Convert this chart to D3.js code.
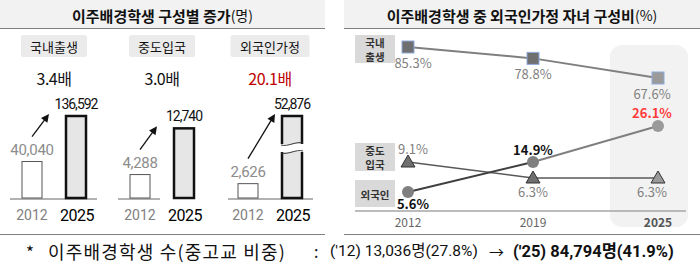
<!DOCTYPE html>
<html>
<head>
<meta charset="utf-8">
<script src="https://cdn.jsdelivr.net/npm/d3@7"></script>
<style>
  body { margin: 0; background: #fff; }
  svg { display: block; font-family: "Noto Sans CJK KR", "Noto Sans", sans-serif; }
  .narrow { font-family: "Liberation Sans Narrow", "Roboto", "Noto Sans CJK KR", sans-serif; }
</style>
</head>
<body>
<div id="chart"></div>
<script>
// Left panel data: count by group
const groupNames = ["국내출생", "중도입국", "외국인가정"];
const barYears = ["2012", "2025"];
const values2012 = [40040, 4288, 2626];
const values2025 = [136592, 12740, 52876];
const ratioLabels = ["3.4배", "3.0배", "20.1배"];

// Right panel data: share (%)
const lineYears = ["2012", "2019", "2025"];
const domesticShare = [85.3, 78.8, 67.6];
const midEntryShare = [9.1, 6.3, 6.3];
const foreignShare = [5.6, 14.9, 26.1];

const width = 700, height = 268;
const svg = d3.select("#chart").append("svg")
  .attr("width", width)
  .attr("height", height);

const fmt = d3.format(",");

// ---------- panel headers ----------
function header(x0, x1, parts) {
  svg.append("rect").attr("x", x0).attr("y", 0).attr("width", x1 - x0).attr("height", 28)
    .attr("fill", "#f2f2f2");
  svg.append("line").attr("x1", x0).attr("x2", x1).attr("y1", 28.5).attr("y2", 28.5)
    .attr("stroke", "#7f7f7f").attr("stroke-width", 1);
  const t = svg.append("text").attr("x", (x0 + x1) / 2).attr("y", 15)
    .attr("text-anchor", "middle").attr("dominant-baseline", "central")
    .attr("fill", "#111");
  parts.forEach(p => t.append("tspan").text(p.text)
    .attr("font-size", p.size).attr("font-weight", p.bold ? 700 : 400));
  svg.append("line").attr("x1", x0).attr("x2", x1).attr("y1", 234.5).attr("y2", 234.5)
    .attr("stroke", "#7f7f7f").attr("stroke-width", 1);
}
header(0, 325, [{ text: "이주배경학생 구성별 증가", size: 15, bold: true }, { text: "(명)", size: 14 }]);
header(344, 700, [{ text: "이주배경학생 중 외국인가정 자녀 구성비", size: 15, bold: true }, { text: "(%)", size: 14 }]);

// ---------- left panel: bars ----------
const baseY = 198, topY = 116;
const groupX = d3.scalePoint().domain(groupNames).range([54, 270]);
const barX = d3.scalePoint().domain(barYears).range([-22, 22]);
const barW = 20;
// each group gets its own height scale; values above the ceiling are drawn with a break
const yScales = [
  d3.scalePow().exponent(0.66).domain([0, 136592]).range([baseY, topY]),
  d3.scaleLinear().domain([0, 15000]).range([baseY, topY]),
  d3.scaleLinear().domain([0, 15000]).range([baseY, topY]).clamp(true)
];
const baseSpan = [[10, 97], [118, 160], [228, 313]];

groupNames.forEach((g, i) => {
  const cx = groupX(g);
  const y = yScales[i];
  const gEl = svg.append("g");

  // category tag
  const tagW = g.length * 13 + 14;
  gEl.append("rect").attr("x", cx - tagW / 2).attr("y", 35).attr("width", tagW).attr("height", 22)
    .attr("rx", 2).attr("fill", "#ebebeb");
  gEl.append("text").attr("x", cx).attr("y", 46.5).attr("text-anchor", "middle")
    .attr("dominant-baseline", "central").attr("font-size", 13).attr("fill", "#111").text(g);

  // ratio
  gEl.append("text").attr("x", cx).attr("y", 78).attr("text-anchor", "middle")
    .attr("dominant-baseline", "central").attr("font-size", 16).attr("letter-spacing", -0.5)
    .attr("fill", i === 2 ? "#c00000" : "#111").text(ratioLabels[i]);

  // baseline
  gEl.append("line").attr("x1", baseSpan[i][0]).attr("x2", baseSpan[i][1])
    .attr("y1", baseY + 1).attr("y2", baseY + 1).attr("stroke", "#999").attr("stroke-width", 1.5);

  const vals = [values2012[i], values2025[i]];
  vals.forEach((v, j) => {
    const bx = cx + barX(barYears[j]);
    const top = y(v);
    gEl.append("rect").attr("x", bx - barW / 2).attr("y", top)
      .attr("width", barW).attr("height", baseY - top)
      .attr("fill", j === 0 ? "#fff" : "#e6e6e6")
      .attr("stroke", j === 0 ? "#555" : "#111")
      .attr("stroke-width", j === 0 ? 1 : 2.5);

    gEl.append("text").attr("class", "narrow").attr("x", bx).attr("y", top - 12)
      .attr("text-anchor", "middle").attr("dominant-baseline", "central")
      .attr("font-size", j === 0 ? 15 : 14).attr("letter-spacing", j === 0 ? -0.3 : -1)
      .attr("fill", j === 0 ? "#8c8c8c" : "#111")
      .text(fmt(v));

    gEl.append("text").attr("class", "narrow").attr("x", bx + (j === 0 ? 0 : 1)).attr("y", 215)
      .attr("text-anchor", "middle").attr("dominant-baseline", "central")
      .attr("font-size", j === 0 ? 14 : 16).attr("letter-spacing", j === 0 ? 0 : -0.5)
      .attr("fill", j === 0 ? "#808080" : "#000")
      .text(barYears[j]);

    // break mark for clamped bar
    if (v > y.domain()[1]) {
      const x0 = bx - barW / 2 - 3, x1 = bx + barW / 2 + 3;
      gEl.append("rect").attr("x", x0).attr("y", 144).attr("width", x1 - x0).attr("height", 8)
        .attr("fill", "#fff");
      [144, 152].forEach(yy => {
        gEl.append("path")
          .attr("d", `M${x0 + 2},${yy + 1} C${bx - 4},${yy + 3} ${bx + 4},${yy - 3} ${x1 - 2},${yy - 1}`)
          .attr("fill", "none").attr("stroke", "#333").attr("stroke-width", 1);
      });
    }
  });

  // arrow
  const sx = cx + barX("2012"), sy = y(vals[0]) - 25;
  const ex = cx - 5 + (i === 2 ? 10 : 0), ey = Math.max(y(vals[1]), topY) - 2;
  const ang = Math.atan2(ey - sy, ex - sx);
  gEl.append("line").attr("x1", sx).attr("y1", sy)
    .attr("x2", ex - 6 * Math.cos(ang)).attr("y2", ey - 6 * Math.sin(ang))
    .attr("stroke", "#111").attr("stroke-width", 1.3);
  const ah = 8, aw = 4;
  const p = [
    [ex, ey],
    [ex - ah * Math.cos(ang) + aw * Math.sin(ang), ey - ah * Math.sin(ang) - aw * Math.cos(ang)],
    [ex - ah * Math.cos(ang) - aw * Math.sin(ang), ey - ah * Math.sin(ang) + aw * Math.cos(ang)]
  ];
  gEl.append("path").attr("d", d3.line()(p) + "Z").attr("fill", "#111");
});

// ---------- right panel: lines ----------
const x = d3.scalePoint().domain(lineYears).range([408, 658]);

// 2025 highlight
svg.append("rect").attr("x", x("2025") - 48).attr("y", 45).attr("width", 78).attr("height", 182)
  .attr("rx", 12).attr("fill", "#f2f2f2");

svg.append("line").attr("x1", 355).attr("x2", 686).attr("y1", 211).attr("y2", 211)
  .attr("stroke", "#a6a6a6").attr("stroke-width", 1.5);

svg.append("g").selectAll("text").data(lineYears).join("text")
  .attr("x", d => x(d)).attr("y", 221).attr("text-anchor", "middle")
  .attr("dominant-baseline", "central").attr("font-size", 12)
  .attr("font-weight", d => d === "2025" ? 700 : 400)
  .attr("fill", d => d === "2025" ? "#555" : "#666").text(d => d);

// each series drawn in its own lane
const series = [
  { name: ["국내", "출생"], vals: domesticShare, yr: d3.scaleLinear().domain([67.6, 85.3]).range([78, 47]),
    marker: "square", tag: [35, 63] },
  { name: ["중도", "입국"], vals: midEntryShare, yr: d3.scaleLinear().domain([6.3, 9.1]).range([178, 162]),
    marker: "triangle", tag: [143, 171] },
  { name: ["외국인"], vals: foreignShare, yr: d3.scaleLinear().domain([5.6, 26.1]).range([192, 126]),
    marker: "circle", tag: [180, 207] }
];

// series tags
series.forEach(s => {
  svg.append("rect").attr("x", 355).attr("y", s.tag[0]).attr("width", 40).attr("height", s.tag[1] - s.tag[0])
    .attr("fill", "#d9d9d9");
  const mid = (s.tag[0] + s.tag[1]) / 2;
  const t = svg.append("text").attr("x", 375).attr("y", mid - (s.name.length - 1) * 7)
    .attr("text-anchor", "middle").attr("dominant-baseline", "central")
    .attr("font-size", 10.5).attr("font-weight", 700).attr("fill", "#333");
  s.name.forEach((n, k) => {
    t.append("tspan").attr("x", 375).attr("dy", k === 0 ? 0 : 14).text(n);
  });
});

// lines
series.forEach((s, si) => {
  const pts = s.vals.map((v, k) => [x(lineYears[k]), s.yr(v)]);
  for (let k = 0; k < pts.length - 1; k++) {
    let col = "#7f7f7f", w = 2;
    if (si === 2) { col = k === 0 ? "#3f3f3f" : "#808080"; w = 2; }
    if (si === 1) { col = "#595959"; w = 1.5; }
    svg.append("path").attr("d", d3.line()([pts[k], pts[k + 1]]))
      .attr("fill", "none").attr("stroke", col).attr("stroke-width", w);
  }
});

// markers + labels
const labelOffsets = [[15, 15, 15], [-14, 13, 13], [11, -13, -14]];
series.forEach((s, si) => {
  s.vals.forEach((v, k) => {
    const px = x(lineYears[k]), py = s.yr(v);
    const last = k === 2;
    if (s.marker === "square") {
      svg.append("rect").attr("x", px - 6).attr("y", py - 6).attr("width", 12).attr("height", 12)
        .attr("fill", last ? "#9a9a9a" : "#6f6f6f").attr("stroke", "#8faadc").attr("stroke-width", 1);
    } else if (s.marker === "circle") {
      svg.append("circle").attr("cx", px).attr("cy", py).attr("r", 6)
        .attr("fill", last ? "#9a9a9a" : "#7f7f7f");
    } else {
      svg.append("path").attr("d", `M${px},${py - 7} L${px + 7},${py + 5} L${px - 7},${py + 5}Z`)
        .attr("fill", last ? "#9a9a9a" : "#6f6f6f").attr("stroke", "#333").attr("stroke-width", 1);
    }
    let fill = "#7f7f7f", weight = 400;
    if (si === 2) { fill = last ? "#ff3b3b" : "#111"; weight = 700; }
    svg.append("text").attr("x", px + (k === 0 ? 5 : 0) - (last ? 6 : 0)).attr("y", py + labelOffsets[si][k])
      .attr("text-anchor", "middle").attr("dominant-baseline", "central")
      .attr("font-size", 13).attr("font-weight", weight).attr("fill", fill)
      .text(v.toFixed(1) + "%");
  });
});

// ---------- footnote ----------
const noteY = 251;
function note(xPos, txt, size, bold, cls, spacing) {
  svg.append("text").attr("class", cls || null).attr("x", xPos).attr("y", noteY)
    .attr("dominant-baseline", "central").attr("fill", "#111")
    .attr("letter-spacing", spacing || 0)
    .attr("font-size", size).attr("font-weight", bold ? 700 : 400).text(txt);
}
note(26, "*", 17);
note(48, "이주배경학생 수(중고교 비중)", 18, false, null, 1.2);
note(314, ":", 16);
note(330, "('12) 13,036명(27.8%)", 15.5, false, "narrow");
note(489, "→", 15);
note(513, "('25) 84,794명(41.9%)", 16.5, true, "narrow");
</script>
</body>
</html>
